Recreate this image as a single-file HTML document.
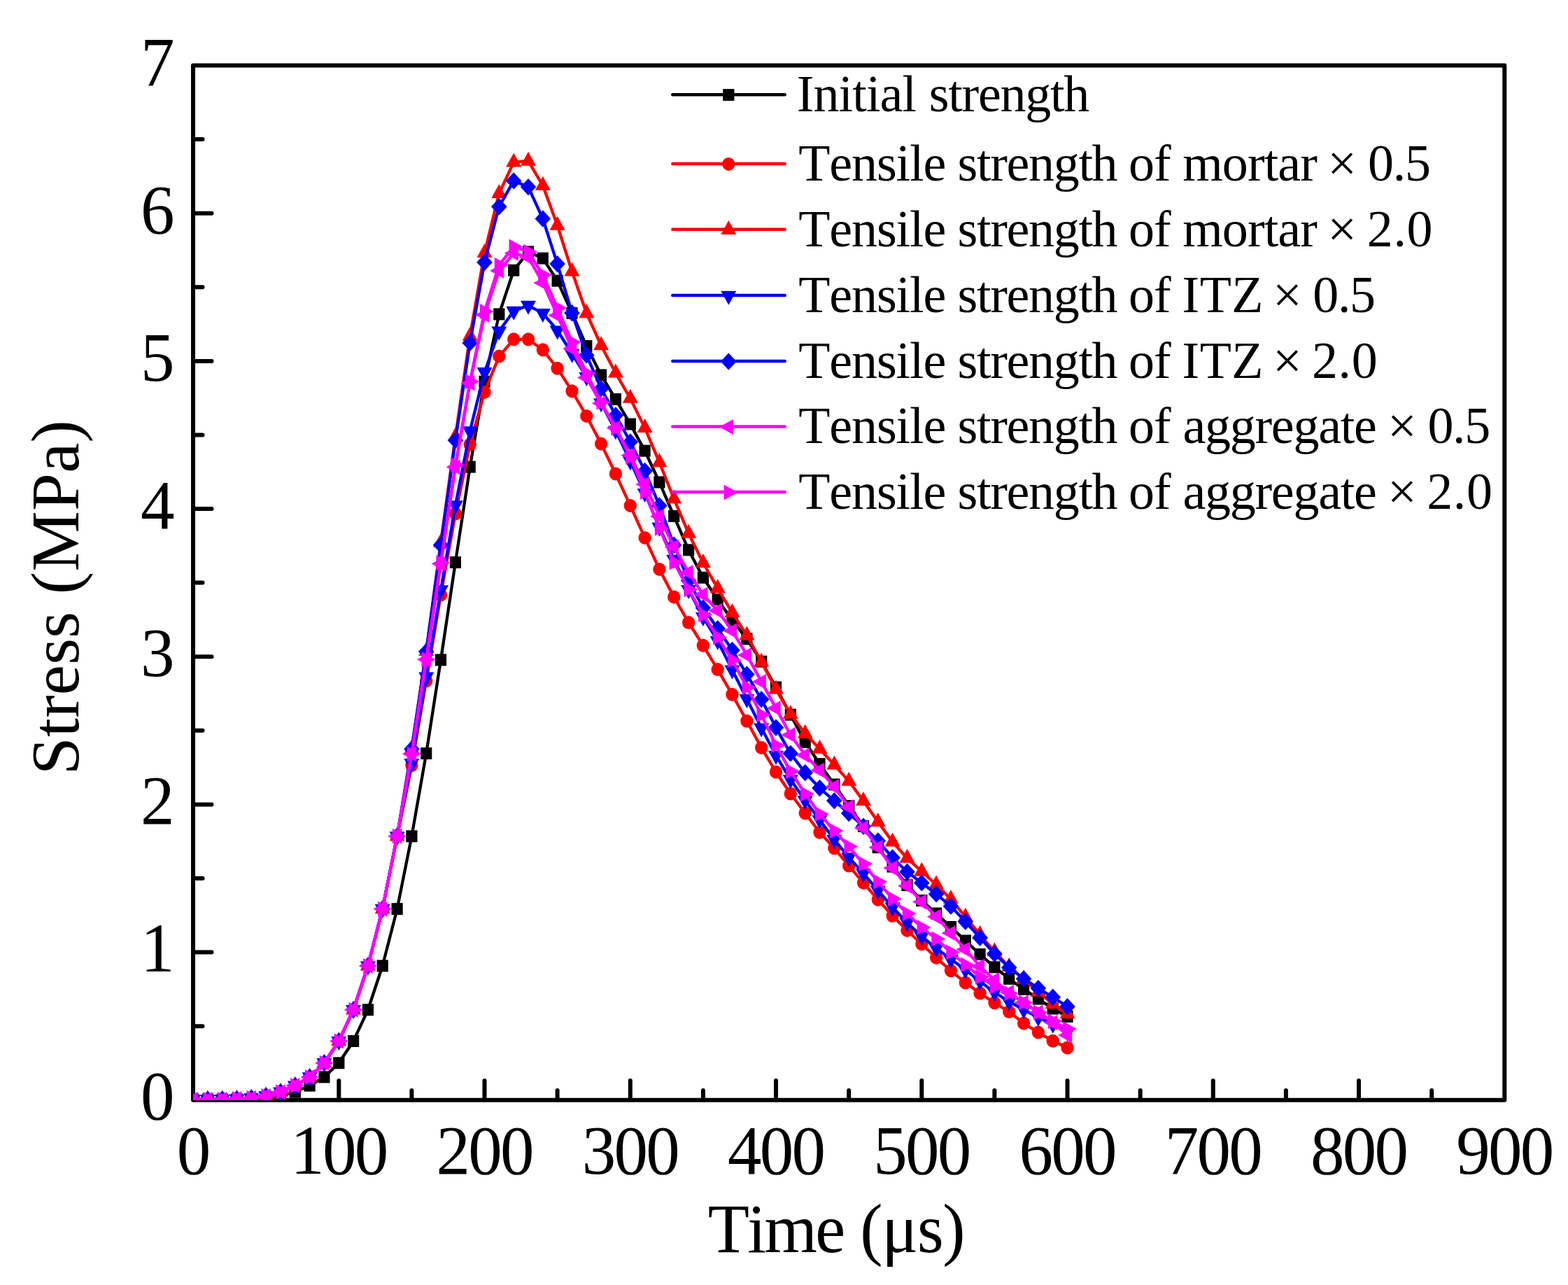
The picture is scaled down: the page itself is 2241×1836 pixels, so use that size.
<!DOCTYPE html>
<html lang="en"><head><meta charset="utf-8"><title>Stress vs Time</title>
<style>html,body{margin:0;padding:0;background:#fff;}body{width:2241px;height:1836px;overflow:hidden;}svg{display:block;}text{font-family:"Liberation Serif",serif;fill:#000;font-kerning:none;white-space:pre;}</style>
</head><body>
<svg width="2241" height="1836" viewBox="0 0 2241 1836">
<rect width="2241" height="1836" fill="#fff"/>
<defs><clipPath id="plot"><rect x="276.0" y="93.5" width="1874.3000000000002" height="1478.3"/></clipPath></defs>
<path d="M380.1 1571.8v-13.8M484.3 1571.8v-27.9M588.4 1571.8v-13.8M692.5 1571.8v-27.9M796.6 1571.8v-13.8M900.8 1571.8v-27.9M1004.9 1571.8v-13.8M1109 1571.8v-27.9M1213.2 1571.8v-13.8M1317.3 1571.8v-27.9M1421.4 1571.8v-13.8M1525.5 1571.8v-27.9M1629.7 1571.8v-13.8M1733.8 1571.8v-27.9M1837.9 1571.8v-13.8M1942 1571.8v-27.9M2046.2 1571.8v-13.8M276 1466.2h13.5M276 1360.6h26.5M276 1255h13.5M276 1149.4h26.5M276 1043.8h13.5M276 938.2h26.5M276 832.6h13.5M276 727.1h26.5M276 621.5h13.5M276 515.9h26.5M276 410.3h13.5M276 304.7h26.5M276 199.1h13.5" stroke="#000" stroke-width="6.0" stroke-linecap="round" fill="none"/>
<rect x="276.0" y="93.5" width="1874.3" height="1478.3" stroke="#000" stroke-width="6.0" stroke-linejoin="round" fill="none"/>
<g clip-path="url(#plot)">
<g id="s-black"><polyline points="276,1571 296.8,1571 317.7,1571 338.5,1570.7 359.3,1570.1 380.1,1568.8 401,1565.9 421.8,1560.2 442.6,1551.1 463.4,1538.9 484.3,1518.8 505.1,1487.5 525.9,1442.8 546.7,1380 567.6,1298.7 588.4,1194.8 609.2,1076.4 630,942.9 650.9,803.5 671.7,667.1 692.5,545.2 713.3,448.9 734.2,386.2 755,359.8 775.8,369.1 796.6,401.2 817.5,447.4 838.3,494.5 859.1,535.9 879.9,570.4 900.8,606 921.6,644.1 942.4,689 963.2,737.4 984.1,785.8 1004.9,825.3 1025.7,856.7 1046.5,886.1 1067.4,912.9 1088.2,945.2 1109,982 1129.8,1021.2 1150.7,1060.3 1171.5,1091.6 1192.3,1120.9 1213.2,1151.5 1234,1180.5 1254.8,1210.7 1275.6,1238.1 1296.5,1264.7 1317.3,1286.7 1338.1,1305.1 1358.9,1324.5 1379.8,1344.1 1400.6,1363.6 1421.4,1381.9 1442.2,1398.4 1463.1,1413.4 1483.9,1427.1 1504.7,1441.1 1525.5,1452.5" fill="none" stroke="#000000" stroke-width="4.3" stroke-linejoin="round" stroke-linecap="round"/>
<rect x="267.9" y="1562.5" width="16.2" height="17" fill="#000000"/><rect x="288.7" y="1562.5" width="16.2" height="17" fill="#000000"/><rect x="309.6" y="1562.5" width="16.2" height="17" fill="#000000"/><rect x="330.4" y="1562.2" width="16.2" height="17" fill="#000000"/><rect x="351.2" y="1561.6" width="16.2" height="17" fill="#000000"/><rect x="372" y="1560.3" width="16.2" height="17" fill="#000000"/><rect x="392.9" y="1557.4" width="16.2" height="17" fill="#000000"/><rect x="413.7" y="1551.7" width="16.2" height="17" fill="#000000"/><rect x="434.5" y="1542.6" width="16.2" height="17" fill="#000000"/><rect x="455.3" y="1530.4" width="16.2" height="17" fill="#000000"/><rect x="476.2" y="1510.3" width="16.2" height="17" fill="#000000"/><rect x="497" y="1479" width="16.2" height="17" fill="#000000"/><rect x="517.8" y="1434.3" width="16.2" height="17" fill="#000000"/><rect x="538.6" y="1371.5" width="16.2" height="17" fill="#000000"/><rect x="559.5" y="1290.2" width="16.2" height="17" fill="#000000"/><rect x="580.3" y="1186.3" width="16.2" height="17" fill="#000000"/><rect x="601.1" y="1067.9" width="16.2" height="17" fill="#000000"/><rect x="621.9" y="934.4" width="16.2" height="17" fill="#000000"/><rect x="642.8" y="795" width="16.2" height="17" fill="#000000"/><rect x="663.6" y="658.6" width="16.2" height="17" fill="#000000"/><rect x="684.4" y="536.7" width="16.2" height="17" fill="#000000"/><rect x="705.2" y="440.4" width="16.2" height="17" fill="#000000"/><rect x="726.1" y="377.7" width="16.2" height="17" fill="#000000"/><rect x="746.9" y="351.3" width="16.2" height="17" fill="#000000"/><rect x="767.7" y="360.6" width="16.2" height="17" fill="#000000"/><rect x="788.5" y="392.7" width="16.2" height="17" fill="#000000"/><rect x="809.4" y="438.9" width="16.2" height="17" fill="#000000"/><rect x="830.2" y="486" width="16.2" height="17" fill="#000000"/><rect x="851" y="527.4" width="16.2" height="17" fill="#000000"/><rect x="871.8" y="561.9" width="16.2" height="17" fill="#000000"/><rect x="892.7" y="597.5" width="16.2" height="17" fill="#000000"/><rect x="913.5" y="635.6" width="16.2" height="17" fill="#000000"/><rect x="934.3" y="680.5" width="16.2" height="17" fill="#000000"/><rect x="955.1" y="728.9" width="16.2" height="17" fill="#000000"/><rect x="976" y="777.3" width="16.2" height="17" fill="#000000"/><rect x="996.8" y="816.8" width="16.2" height="17" fill="#000000"/><rect x="1017.6" y="848.2" width="16.2" height="17" fill="#000000"/><rect x="1038.4" y="877.6" width="16.2" height="17" fill="#000000"/><rect x="1059.3" y="904.4" width="16.2" height="17" fill="#000000"/><rect x="1080.1" y="936.7" width="16.2" height="17" fill="#000000"/><rect x="1100.9" y="973.5" width="16.2" height="17" fill="#000000"/><rect x="1121.7" y="1012.7" width="16.2" height="17" fill="#000000"/><rect x="1142.6" y="1051.8" width="16.2" height="17" fill="#000000"/><rect x="1163.4" y="1083.1" width="16.2" height="17" fill="#000000"/><rect x="1184.2" y="1112.4" width="16.2" height="17" fill="#000000"/><rect x="1205.1" y="1143" width="16.2" height="17" fill="#000000"/><rect x="1225.9" y="1172" width="16.2" height="17" fill="#000000"/><rect x="1246.7" y="1202.2" width="16.2" height="17" fill="#000000"/><rect x="1267.5" y="1229.6" width="16.2" height="17" fill="#000000"/><rect x="1288.4" y="1256.2" width="16.2" height="17" fill="#000000"/><rect x="1309.2" y="1278.2" width="16.2" height="17" fill="#000000"/><rect x="1330" y="1296.6" width="16.2" height="17" fill="#000000"/><rect x="1350.8" y="1316" width="16.2" height="17" fill="#000000"/><rect x="1371.7" y="1335.6" width="16.2" height="17" fill="#000000"/><rect x="1392.5" y="1355.1" width="16.2" height="17" fill="#000000"/><rect x="1413.3" y="1373.4" width="16.2" height="17" fill="#000000"/><rect x="1434.1" y="1389.9" width="16.2" height="17" fill="#000000"/><rect x="1455" y="1404.9" width="16.2" height="17" fill="#000000"/><rect x="1475.8" y="1418.6" width="16.2" height="17" fill="#000000"/><rect x="1496.6" y="1432.6" width="16.2" height="17" fill="#000000"/><rect x="1517.4" y="1444" width="16.2" height="17" fill="#000000"/>
</g>
<g id="s-redc"><polyline points="276,1571 296.8,1571 317.7,1570.7 338.5,1570.1 359.3,1568.8 380.1,1565.9 401,1560.2 421.8,1551.1 442.6,1538.9 463.4,1518.8 484.3,1487.5 505.1,1442.8 525.9,1380 546.7,1298.7 567.6,1194.8 588.4,1093.5 609.2,972.7 630,850 650.9,734 671.7,635 692.5,560.2 713.3,509.1 734.2,484.8 755,484.8 775.8,499.8 796.6,526.2 817.5,558.7 838.3,594.4 859.1,634.1 879.9,677 900.8,722.4 921.6,768.4 942.4,813.4 963.2,852.9 984.1,889.5 1004.9,922.2 1025.7,956.6 1046.5,992.3 1067.4,1030.3 1088.2,1068.3 1109,1103 1129.8,1134 1150.7,1161.7 1171.5,1189.3 1192.3,1211.7 1213.2,1237.1 1234,1261.4 1254.8,1285.4 1275.6,1308.5 1296.5,1329.4 1317.3,1348.8 1338.1,1368.4 1358.9,1386.8 1379.8,1404.1 1400.6,1419.1 1421.4,1432.8 1442.2,1445.5 1463.1,1462 1483.9,1475.1 1504.7,1487.3 1525.5,1497" fill="none" stroke="#ff0000" stroke-width="4.3" stroke-linejoin="round" stroke-linecap="round"/>
<ellipse cx="276" cy="1571" rx="9.15" ry="9.5" fill="#ff0000"/><ellipse cx="296.8" cy="1571" rx="9.15" ry="9.5" fill="#ff0000"/><ellipse cx="317.7" cy="1570.7" rx="9.15" ry="9.5" fill="#ff0000"/><ellipse cx="338.5" cy="1570.1" rx="9.15" ry="9.5" fill="#ff0000"/><ellipse cx="359.3" cy="1568.8" rx="9.15" ry="9.5" fill="#ff0000"/><ellipse cx="380.1" cy="1565.9" rx="9.15" ry="9.5" fill="#ff0000"/><ellipse cx="401" cy="1560.2" rx="9.15" ry="9.5" fill="#ff0000"/><ellipse cx="421.8" cy="1551.1" rx="9.15" ry="9.5" fill="#ff0000"/><ellipse cx="442.6" cy="1538.9" rx="9.15" ry="9.5" fill="#ff0000"/><ellipse cx="463.4" cy="1518.8" rx="9.15" ry="9.5" fill="#ff0000"/><ellipse cx="484.3" cy="1487.5" rx="9.15" ry="9.5" fill="#ff0000"/><ellipse cx="505.1" cy="1442.8" rx="9.15" ry="9.5" fill="#ff0000"/><ellipse cx="525.9" cy="1380" rx="9.15" ry="9.5" fill="#ff0000"/><ellipse cx="546.7" cy="1298.7" rx="9.15" ry="9.5" fill="#ff0000"/><ellipse cx="567.6" cy="1194.8" rx="9.15" ry="9.5" fill="#ff0000"/><ellipse cx="588.4" cy="1093.5" rx="9.15" ry="9.5" fill="#ff0000"/><ellipse cx="609.2" cy="972.7" rx="9.15" ry="9.5" fill="#ff0000"/><ellipse cx="630" cy="850" rx="9.15" ry="9.5" fill="#ff0000"/><ellipse cx="650.9" cy="734" rx="9.15" ry="9.5" fill="#ff0000"/><ellipse cx="671.7" cy="635" rx="9.15" ry="9.5" fill="#ff0000"/><ellipse cx="692.5" cy="560.2" rx="9.15" ry="9.5" fill="#ff0000"/><ellipse cx="713.3" cy="509.1" rx="9.15" ry="9.5" fill="#ff0000"/><ellipse cx="734.2" cy="484.8" rx="9.15" ry="9.5" fill="#ff0000"/><ellipse cx="755" cy="484.8" rx="9.15" ry="9.5" fill="#ff0000"/><ellipse cx="775.8" cy="499.8" rx="9.15" ry="9.5" fill="#ff0000"/><ellipse cx="796.6" cy="526.2" rx="9.15" ry="9.5" fill="#ff0000"/><ellipse cx="817.5" cy="558.7" rx="9.15" ry="9.5" fill="#ff0000"/><ellipse cx="838.3" cy="594.4" rx="9.15" ry="9.5" fill="#ff0000"/><ellipse cx="859.1" cy="634.1" rx="9.15" ry="9.5" fill="#ff0000"/><ellipse cx="879.9" cy="677" rx="9.15" ry="9.5" fill="#ff0000"/><ellipse cx="900.8" cy="722.4" rx="9.15" ry="9.5" fill="#ff0000"/><ellipse cx="921.6" cy="768.4" rx="9.15" ry="9.5" fill="#ff0000"/><ellipse cx="942.4" cy="813.4" rx="9.15" ry="9.5" fill="#ff0000"/><ellipse cx="963.2" cy="852.9" rx="9.15" ry="9.5" fill="#ff0000"/><ellipse cx="984.1" cy="889.5" rx="9.15" ry="9.5" fill="#ff0000"/><ellipse cx="1004.9" cy="922.2" rx="9.15" ry="9.5" fill="#ff0000"/><ellipse cx="1025.7" cy="956.6" rx="9.15" ry="9.5" fill="#ff0000"/><ellipse cx="1046.5" cy="992.3" rx="9.15" ry="9.5" fill="#ff0000"/><ellipse cx="1067.4" cy="1030.3" rx="9.15" ry="9.5" fill="#ff0000"/><ellipse cx="1088.2" cy="1068.3" rx="9.15" ry="9.5" fill="#ff0000"/><ellipse cx="1109" cy="1103" rx="9.15" ry="9.5" fill="#ff0000"/><ellipse cx="1129.8" cy="1134" rx="9.15" ry="9.5" fill="#ff0000"/><ellipse cx="1150.7" cy="1161.7" rx="9.15" ry="9.5" fill="#ff0000"/><ellipse cx="1171.5" cy="1189.3" rx="9.15" ry="9.5" fill="#ff0000"/><ellipse cx="1192.3" cy="1211.7" rx="9.15" ry="9.5" fill="#ff0000"/><ellipse cx="1213.2" cy="1237.1" rx="9.15" ry="9.5" fill="#ff0000"/><ellipse cx="1234" cy="1261.4" rx="9.15" ry="9.5" fill="#ff0000"/><ellipse cx="1254.8" cy="1285.4" rx="9.15" ry="9.5" fill="#ff0000"/><ellipse cx="1275.6" cy="1308.5" rx="9.15" ry="9.5" fill="#ff0000"/><ellipse cx="1296.5" cy="1329.4" rx="9.15" ry="9.5" fill="#ff0000"/><ellipse cx="1317.3" cy="1348.8" rx="9.15" ry="9.5" fill="#ff0000"/><ellipse cx="1338.1" cy="1368.4" rx="9.15" ry="9.5" fill="#ff0000"/><ellipse cx="1358.9" cy="1386.8" rx="9.15" ry="9.5" fill="#ff0000"/><ellipse cx="1379.8" cy="1404.1" rx="9.15" ry="9.5" fill="#ff0000"/><ellipse cx="1400.6" cy="1419.1" rx="9.15" ry="9.5" fill="#ff0000"/><ellipse cx="1421.4" cy="1432.8" rx="9.15" ry="9.5" fill="#ff0000"/><ellipse cx="1442.2" cy="1445.5" rx="9.15" ry="9.5" fill="#ff0000"/><ellipse cx="1463.1" cy="1462" rx="9.15" ry="9.5" fill="#ff0000"/><ellipse cx="1483.9" cy="1475.1" rx="9.15" ry="9.5" fill="#ff0000"/><ellipse cx="1504.7" cy="1487.3" rx="9.15" ry="9.5" fill="#ff0000"/><ellipse cx="1525.5" cy="1497" rx="9.15" ry="9.5" fill="#ff0000"/>
</g>
<g id="s-redt"><polyline points="276,1571 296.8,1571 317.7,1570.7 338.5,1570.1 359.3,1568.8 380.1,1565.9 401,1560.2 421.8,1551.1 442.6,1538.9 463.4,1518.8 484.3,1487.5 505.1,1442.8 525.9,1380 546.7,1298.7 567.6,1194.8 588.4,1069.7 609.2,930.3 630,775.1 650.9,623.7 671.7,480.1 692.5,361.4 713.3,276.3 734.2,231.7 755,230 775.8,265.1 796.6,322.1 817.5,388 838.3,447.5 859.1,493.6 879.9,532.9 900.8,569.2 921.6,611.4 942.4,660.6 963.2,712.6 984.1,762 1004.9,804.2 1025.7,840.5 1046.5,875.4 1067.4,907.7 1088.2,945.7 1109,984.8 1129.8,1020.5 1150.7,1048.1 1171.5,1070.1 1192.3,1092.9 1213.2,1116.1 1234,1144.4 1254.8,1174.2 1275.6,1202.7 1296.5,1226.2 1317.3,1245.2 1338.1,1264 1358.9,1284.7 1379.8,1310 1400.6,1335.4 1421.4,1359.6 1442.2,1381.4 1463.1,1399.1 1483.9,1417.1 1504.7,1434.6 1525.5,1448.6" fill="none" stroke="#ff0000" stroke-width="4.3" stroke-linejoin="round" stroke-linecap="round"/>
<polygon points="276,1557.6 265,1577.6 287,1577.6" fill="#ff0000"/><polygon points="296.8,1557.6 285.8,1577.6 307.8,1577.6" fill="#ff0000"/><polygon points="317.7,1557.4 306.7,1577.4 328.7,1577.4" fill="#ff0000"/><polygon points="338.5,1556.8 327.5,1576.8 349.5,1576.8" fill="#ff0000"/><polygon points="359.3,1555.5 348.3,1575.5 370.3,1575.5" fill="#ff0000"/><polygon points="380.1,1552.6 369.1,1572.6 391.1,1572.6" fill="#ff0000"/><polygon points="401,1546.9 390,1566.9 412,1566.9" fill="#ff0000"/><polygon points="421.8,1537.8 410.8,1557.8 432.8,1557.8" fill="#ff0000"/><polygon points="442.6,1525.5 431.6,1545.5 453.6,1545.5" fill="#ff0000"/><polygon points="463.4,1505.5 452.4,1525.5 474.4,1525.5" fill="#ff0000"/><polygon points="484.3,1474.2 473.3,1494.2 495.3,1494.2" fill="#ff0000"/><polygon points="505.1,1429.4 494.1,1449.4 516.1,1449.4" fill="#ff0000"/><polygon points="525.9,1366.7 514.9,1386.7 536.9,1386.7" fill="#ff0000"/><polygon points="546.7,1285.4 535.7,1305.4 557.7,1305.4" fill="#ff0000"/><polygon points="567.6,1181.5 556.6,1201.5 578.6,1201.5" fill="#ff0000"/><polygon points="588.4,1056.4 577.4,1076.4 599.4,1076.4" fill="#ff0000"/><polygon points="609.2,917 598.2,937 620.2,937" fill="#ff0000"/><polygon points="630,761.7 619,781.7 641,781.7" fill="#ff0000"/><polygon points="650.9,610.3 639.9,630.3 661.9,630.3" fill="#ff0000"/><polygon points="671.7,466.7 660.7,486.7 682.7,486.7" fill="#ff0000"/><polygon points="692.5,348 681.5,368 703.5,368" fill="#ff0000"/><polygon points="713.3,262.9 702.3,282.9 724.3,282.9" fill="#ff0000"/><polygon points="734.2,218.4 723.2,238.4 745.2,238.4" fill="#ff0000"/><polygon points="755,216.7 744,236.7 766,236.7" fill="#ff0000"/><polygon points="775.8,251.7 764.8,271.7 786.8,271.7" fill="#ff0000"/><polygon points="796.6,308.8 785.6,328.8 807.6,328.8" fill="#ff0000"/><polygon points="817.5,374.6 806.5,394.6 828.5,394.6" fill="#ff0000"/><polygon points="838.3,434.2 827.3,454.2 849.3,454.2" fill="#ff0000"/><polygon points="859.1,480.2 848.1,500.2 870.1,500.2" fill="#ff0000"/><polygon points="879.9,519.5 868.9,539.5 890.9,539.5" fill="#ff0000"/><polygon points="900.8,555.8 889.8,575.8 911.8,575.8" fill="#ff0000"/><polygon points="921.6,598.1 910.6,618.1 932.6,618.1" fill="#ff0000"/><polygon points="942.4,647.3 931.4,667.3 953.4,667.3" fill="#ff0000"/><polygon points="963.2,699.2 952.2,719.2 974.2,719.2" fill="#ff0000"/><polygon points="984.1,748.7 973.1,768.7 995.1,768.7" fill="#ff0000"/><polygon points="1004.9,790.9 993.9,810.9 1015.9,810.9" fill="#ff0000"/><polygon points="1025.7,827.2 1014.7,847.2 1036.7,847.2" fill="#ff0000"/><polygon points="1046.5,862.1 1035.5,882.1 1057.5,882.1" fill="#ff0000"/><polygon points="1067.4,894.4 1056.4,914.4 1078.4,914.4" fill="#ff0000"/><polygon points="1088.2,932.4 1077.2,952.4 1099.2,952.4" fill="#ff0000"/><polygon points="1109,971.5 1098,991.5 1120,991.5" fill="#ff0000"/><polygon points="1129.8,1007.1 1118.8,1027.1 1140.8,1027.1" fill="#ff0000"/><polygon points="1150.7,1034.8 1139.7,1054.8 1161.7,1054.8" fill="#ff0000"/><polygon points="1171.5,1056.8 1160.5,1076.8 1182.5,1076.8" fill="#ff0000"/><polygon points="1192.3,1079.6 1181.3,1099.6 1203.3,1099.6" fill="#ff0000"/><polygon points="1213.2,1102.8 1202.2,1122.8 1224.2,1122.8" fill="#ff0000"/><polygon points="1234,1131.1 1223,1151.1 1245,1151.1" fill="#ff0000"/><polygon points="1254.8,1160.9 1243.8,1180.9 1265.8,1180.9" fill="#ff0000"/><polygon points="1275.6,1189.4 1264.6,1209.4 1286.6,1209.4" fill="#ff0000"/><polygon points="1296.5,1212.8 1285.5,1232.8 1307.5,1232.8" fill="#ff0000"/><polygon points="1317.3,1231.8 1306.3,1251.8 1328.3,1251.8" fill="#ff0000"/><polygon points="1338.1,1250.6 1327.1,1270.6 1349.1,1270.6" fill="#ff0000"/><polygon points="1358.9,1271.3 1347.9,1291.3 1369.9,1291.3" fill="#ff0000"/><polygon points="1379.8,1296.7 1368.8,1316.7 1390.8,1316.7" fill="#ff0000"/><polygon points="1400.6,1322 1389.6,1342 1411.6,1342" fill="#ff0000"/><polygon points="1421.4,1346.3 1410.4,1366.3 1432.4,1366.3" fill="#ff0000"/><polygon points="1442.2,1368.1 1431.2,1388.1 1453.2,1388.1" fill="#ff0000"/><polygon points="1463.1,1385.8 1452.1,1405.8 1474.1,1405.8" fill="#ff0000"/><polygon points="1483.9,1403.8 1472.9,1423.8 1494.9,1423.8" fill="#ff0000"/><polygon points="1504.7,1421.3 1493.7,1441.3 1515.7,1441.3" fill="#ff0000"/><polygon points="1525.5,1435.2 1514.5,1455.2 1536.5,1455.2" fill="#ff0000"/>
</g>
<g id="s-blued"><polyline points="276,1571 296.8,1571 317.7,1570.7 338.5,1570.1 359.3,1568.8 380.1,1565.9 401,1560.2 421.8,1551.1 442.6,1538.9 463.4,1518.8 484.3,1487.5 505.1,1442.8 525.9,1380 546.7,1298.7 567.6,1194.8 588.4,1090.6 609.2,967 630,842.9 650.9,721.9 671.7,615.8 692.5,531.8 713.3,473.1 734.2,444.4 755,436.3 775.8,447.7 796.6,472 817.5,505.4 838.3,538.6 859.1,575.9 879.9,615.2 900.8,658.9 921.6,704.8 942.4,753.3 963.2,799.4 984.1,842.7 1004.9,881.7 1025.7,915.7 1046.5,957.1 1067.4,998.7 1088.2,1040.1 1109,1079.4 1129.8,1113.8 1150.7,1143.8 1171.5,1171.5 1192.3,1199.6 1213.2,1224.9 1234,1247.9 1254.8,1272.2 1275.6,1296.3 1296.5,1318.3 1317.3,1337.9 1338.1,1354.8 1358.9,1370.6 1379.8,1385.6 1400.6,1402.3 1421.4,1417.9 1442.2,1431 1463.1,1442.6 1483.9,1453.6 1504.7,1463.3 1525.5,1474.5" fill="none" stroke="#0000ff" stroke-width="4.3" stroke-linejoin="round" stroke-linecap="round"/>
<polygon points="276,1584.3 265,1564.3 287,1564.3" fill="#0000ff"/><polygon points="296.8,1584.3 285.8,1564.3 307.8,1564.3" fill="#0000ff"/><polygon points="317.7,1584.1 306.7,1564.1 328.7,1564.1" fill="#0000ff"/><polygon points="338.5,1583.4 327.5,1563.4 349.5,1563.4" fill="#0000ff"/><polygon points="359.3,1582.2 348.3,1562.2 370.3,1562.2" fill="#0000ff"/><polygon points="380.1,1579.2 369.1,1559.2 391.1,1559.2" fill="#0000ff"/><polygon points="401,1573.5 390,1553.5 412,1553.5" fill="#0000ff"/><polygon points="421.8,1564.4 410.8,1544.4 432.8,1544.4" fill="#0000ff"/><polygon points="442.6,1552.2 431.6,1532.2 453.6,1532.2" fill="#0000ff"/><polygon points="463.4,1532.1 452.4,1512.1 474.4,1512.1" fill="#0000ff"/><polygon points="484.3,1500.9 473.3,1480.9 495.3,1480.9" fill="#0000ff"/><polygon points="505.1,1456.1 494.1,1436.1 516.1,1436.1" fill="#0000ff"/><polygon points="525.9,1393.4 514.9,1373.4 536.9,1373.4" fill="#0000ff"/><polygon points="546.7,1312.1 535.7,1292.1 557.7,1292.1" fill="#0000ff"/><polygon points="567.6,1208.2 556.6,1188.2 578.6,1188.2" fill="#0000ff"/><polygon points="588.4,1103.9 577.4,1083.9 599.4,1083.9" fill="#0000ff"/><polygon points="609.2,980.4 598.2,960.4 620.2,960.4" fill="#0000ff"/><polygon points="630,856.2 619,836.2 641,836.2" fill="#0000ff"/><polygon points="650.9,735.2 639.9,715.2 661.9,715.2" fill="#0000ff"/><polygon points="671.7,629.2 660.7,609.2 682.7,609.2" fill="#0000ff"/><polygon points="692.5,545.1 681.5,525.1 703.5,525.1" fill="#0000ff"/><polygon points="713.3,486.4 702.3,466.4 724.3,466.4" fill="#0000ff"/><polygon points="734.2,457.7 723.2,437.7 745.2,437.7" fill="#0000ff"/><polygon points="755,449.7 744,429.7 766,429.7" fill="#0000ff"/><polygon points="775.8,461.1 764.8,441.1 786.8,441.1" fill="#0000ff"/><polygon points="796.6,485.4 785.6,465.4 807.6,465.4" fill="#0000ff"/><polygon points="817.5,518.7 806.5,498.7 828.5,498.7" fill="#0000ff"/><polygon points="838.3,551.9 827.3,531.9 849.3,531.9" fill="#0000ff"/><polygon points="859.1,589.3 848.1,569.3 870.1,569.3" fill="#0000ff"/><polygon points="879.9,628.5 868.9,608.5 890.9,608.5" fill="#0000ff"/><polygon points="900.8,672.3 889.8,652.3 911.8,652.3" fill="#0000ff"/><polygon points="921.6,718.1 910.6,698.1 932.6,698.1" fill="#0000ff"/><polygon points="942.4,766.7 931.4,746.7 953.4,746.7" fill="#0000ff"/><polygon points="963.2,812.7 952.2,792.7 974.2,792.7" fill="#0000ff"/><polygon points="984.1,856 973.1,836 995.1,836" fill="#0000ff"/><polygon points="1004.9,895.1 993.9,875.1 1015.9,875.1" fill="#0000ff"/><polygon points="1025.7,929.1 1014.7,909.1 1036.7,909.1" fill="#0000ff"/><polygon points="1046.5,970.5 1035.5,950.5 1057.5,950.5" fill="#0000ff"/><polygon points="1067.4,1012.1 1056.4,992.1 1078.4,992.1" fill="#0000ff"/><polygon points="1088.2,1053.5 1077.2,1033.5 1099.2,1033.5" fill="#0000ff"/><polygon points="1109,1092.7 1098,1072.7 1120,1072.7" fill="#0000ff"/><polygon points="1129.8,1127.2 1118.8,1107.2 1140.8,1107.2" fill="#0000ff"/><polygon points="1150.7,1157.1 1139.7,1137.1 1161.7,1137.1" fill="#0000ff"/><polygon points="1171.5,1184.8 1160.5,1164.8 1182.5,1164.8" fill="#0000ff"/><polygon points="1192.3,1212.9 1181.3,1192.9 1203.3,1192.9" fill="#0000ff"/><polygon points="1213.2,1238.2 1202.2,1218.2 1224.2,1218.2" fill="#0000ff"/><polygon points="1234,1261.3 1223,1241.3 1245,1241.3" fill="#0000ff"/><polygon points="1254.8,1285.5 1243.8,1265.5 1265.8,1265.5" fill="#0000ff"/><polygon points="1275.6,1309.6 1264.6,1289.6 1286.6,1289.6" fill="#0000ff"/><polygon points="1296.5,1331.6 1285.5,1311.6 1307.5,1311.6" fill="#0000ff"/><polygon points="1317.3,1351.2 1306.3,1331.2 1328.3,1331.2" fill="#0000ff"/><polygon points="1338.1,1368.1 1327.1,1348.1 1349.1,1348.1" fill="#0000ff"/><polygon points="1358.9,1384 1347.9,1364 1369.9,1364" fill="#0000ff"/><polygon points="1379.8,1399 1368.8,1379 1390.8,1379" fill="#0000ff"/><polygon points="1400.6,1415.6 1389.6,1395.6 1411.6,1395.6" fill="#0000ff"/><polygon points="1421.4,1431.3 1410.4,1411.3 1432.4,1411.3" fill="#0000ff"/><polygon points="1442.2,1444.4 1431.2,1424.4 1453.2,1424.4" fill="#0000ff"/><polygon points="1463.1,1456 1452.1,1436 1474.1,1436" fill="#0000ff"/><polygon points="1483.9,1467 1472.9,1447 1494.9,1447" fill="#0000ff"/><polygon points="1504.7,1476.7 1493.7,1456.7 1515.7,1456.7" fill="#0000ff"/><polygon points="1525.5,1487.9 1514.5,1467.9 1536.5,1467.9" fill="#0000ff"/>
</g>
<g id="s-bluedi"><polyline points="276,1571 296.8,1571 317.7,1570.7 338.5,1570.1 359.3,1568.8 380.1,1565.9 401,1560.2 421.8,1551.1 442.6,1538.9 463.4,1518.8 484.3,1487.5 505.1,1442.8 525.9,1380 546.7,1298.7 567.6,1194.8 588.4,1070.2 609.2,931.1 630,778.8 650.9,629.1 671.7,489.9 692.5,374.8 713.3,295.2 734.2,258.4 755,267.1 775.8,312.5 796.6,377.1 817.5,447.2 838.3,507.4 859.1,555.4 879.9,593.4 900.8,631.4 921.6,673 942.4,722.4 963.2,778.8 984.1,829.5 1004.9,868.6 1025.7,898.1 1046.5,929 1067.4,963.6 1088.2,999.3 1109,1039.6 1129.8,1076.6 1150.7,1104 1171.5,1126 1192.3,1144.1 1213.2,1162.1 1234,1180.7 1254.8,1201.4 1275.6,1225.5 1296.5,1245.7 1317.3,1261.4 1338.1,1277.4 1358.9,1294.7 1379.8,1316.7 1400.6,1339.7 1421.4,1362.7 1442.2,1382.4 1463.1,1398.4 1483.9,1412.1 1504.7,1424.8 1525.5,1438.3" fill="none" stroke="#0000ff" stroke-width="4.3" stroke-linejoin="round" stroke-linecap="round"/>
<polygon points="276,1558.8 287.3,1571 276,1583.2 264.7,1571" fill="#0000ff"/><polygon points="296.8,1558.8 308.1,1571 296.8,1583.2 285.5,1571" fill="#0000ff"/><polygon points="317.7,1558.5 329,1570.7 317.7,1582.9 306.4,1570.7" fill="#0000ff"/><polygon points="338.5,1557.9 349.8,1570.1 338.5,1582.3 327.2,1570.1" fill="#0000ff"/><polygon points="359.3,1556.6 370.6,1568.8 359.3,1581 348,1568.8" fill="#0000ff"/><polygon points="380.1,1553.7 391.4,1565.9 380.1,1578.1 368.8,1565.9" fill="#0000ff"/><polygon points="401,1548 412.3,1560.2 401,1572.4 389.7,1560.2" fill="#0000ff"/><polygon points="421.8,1538.9 433.1,1551.1 421.8,1563.3 410.5,1551.1" fill="#0000ff"/><polygon points="442.6,1526.7 453.9,1538.9 442.6,1551.1 431.3,1538.9" fill="#0000ff"/><polygon points="463.4,1506.6 474.7,1518.8 463.4,1531 452.1,1518.8" fill="#0000ff"/><polygon points="484.3,1475.3 495.6,1487.5 484.3,1499.7 473,1487.5" fill="#0000ff"/><polygon points="505.1,1430.6 516.4,1442.8 505.1,1455 493.8,1442.8" fill="#0000ff"/><polygon points="525.9,1367.8 537.2,1380 525.9,1392.2 514.6,1380" fill="#0000ff"/><polygon points="546.7,1286.5 558,1298.7 546.7,1310.9 535.4,1298.7" fill="#0000ff"/><polygon points="567.6,1182.6 578.9,1194.8 567.6,1207 556.3,1194.8" fill="#0000ff"/><polygon points="588.4,1058 599.7,1070.2 588.4,1082.4 577.1,1070.2" fill="#0000ff"/><polygon points="609.2,918.9 620.5,931.1 609.2,943.3 597.9,931.1" fill="#0000ff"/><polygon points="630,766.6 641.3,778.8 630,791 618.7,778.8" fill="#0000ff"/><polygon points="650.9,616.9 662.2,629.1 650.9,641.3 639.6,629.1" fill="#0000ff"/><polygon points="671.7,477.7 683,489.9 671.7,502.1 660.4,489.9" fill="#0000ff"/><polygon points="692.5,362.6 703.8,374.8 692.5,387 681.2,374.8" fill="#0000ff"/><polygon points="713.3,283 724.6,295.2 713.3,307.4 702,295.2" fill="#0000ff"/><polygon points="734.2,246.2 745.5,258.4 734.2,270.6 722.9,258.4" fill="#0000ff"/><polygon points="755,254.9 766.3,267.1 755,279.3 743.7,267.1" fill="#0000ff"/><polygon points="775.8,300.3 787.1,312.5 775.8,324.7 764.5,312.5" fill="#0000ff"/><polygon points="796.6,364.9 807.9,377.1 796.6,389.3 785.3,377.1" fill="#0000ff"/><polygon points="817.5,435 828.8,447.2 817.5,459.4 806.2,447.2" fill="#0000ff"/><polygon points="838.3,495.2 849.6,507.4 838.3,519.6 827,507.4" fill="#0000ff"/><polygon points="859.1,543.2 870.4,555.4 859.1,567.6 847.8,555.4" fill="#0000ff"/><polygon points="879.9,581.2 891.2,593.4 879.9,605.6 868.6,593.4" fill="#0000ff"/><polygon points="900.8,619.2 912.1,631.4 900.8,643.6 889.5,631.4" fill="#0000ff"/><polygon points="921.6,660.8 932.9,673 921.6,685.2 910.3,673" fill="#0000ff"/><polygon points="942.4,710.2 953.7,722.4 942.4,734.6 931.1,722.4" fill="#0000ff"/><polygon points="963.2,766.6 974.5,778.8 963.2,791 951.9,778.8" fill="#0000ff"/><polygon points="984.1,817.3 995.4,829.5 984.1,841.7 972.8,829.5" fill="#0000ff"/><polygon points="1004.9,856.4 1016.2,868.6 1004.9,880.8 993.6,868.6" fill="#0000ff"/><polygon points="1025.7,885.9 1037,898.1 1025.7,910.3 1014.4,898.1" fill="#0000ff"/><polygon points="1046.5,916.8 1057.8,929 1046.5,941.2 1035.2,929" fill="#0000ff"/><polygon points="1067.4,951.4 1078.7,963.6 1067.4,975.8 1056.1,963.6" fill="#0000ff"/><polygon points="1088.2,987.1 1099.5,999.3 1088.2,1011.5 1076.9,999.3" fill="#0000ff"/><polygon points="1109,1027.4 1120.3,1039.6 1109,1051.8 1097.7,1039.6" fill="#0000ff"/><polygon points="1129.8,1064.4 1141.1,1076.6 1129.8,1088.8 1118.5,1076.6" fill="#0000ff"/><polygon points="1150.7,1091.8 1162,1104 1150.7,1116.2 1139.4,1104" fill="#0000ff"/><polygon points="1171.5,1113.8 1182.8,1126 1171.5,1138.2 1160.2,1126" fill="#0000ff"/><polygon points="1192.3,1131.9 1203.6,1144.1 1192.3,1156.3 1181,1144.1" fill="#0000ff"/><polygon points="1213.2,1149.9 1224.5,1162.1 1213.2,1174.3 1201.9,1162.1" fill="#0000ff"/><polygon points="1234,1168.5 1245.3,1180.7 1234,1192.9 1222.7,1180.7" fill="#0000ff"/><polygon points="1254.8,1189.2 1266.1,1201.4 1254.8,1213.6 1243.5,1201.4" fill="#0000ff"/><polygon points="1275.6,1213.3 1286.9,1225.5 1275.6,1237.7 1264.3,1225.5" fill="#0000ff"/><polygon points="1296.5,1233.5 1307.8,1245.7 1296.5,1257.9 1285.2,1245.7" fill="#0000ff"/><polygon points="1317.3,1249.2 1328.6,1261.4 1317.3,1273.6 1306,1261.4" fill="#0000ff"/><polygon points="1338.1,1265.2 1349.4,1277.4 1338.1,1289.6 1326.8,1277.4" fill="#0000ff"/><polygon points="1358.9,1282.5 1370.2,1294.7 1358.9,1306.9 1347.6,1294.7" fill="#0000ff"/><polygon points="1379.8,1304.5 1391.1,1316.7 1379.8,1328.9 1368.5,1316.7" fill="#0000ff"/><polygon points="1400.6,1327.5 1411.9,1339.7 1400.6,1351.9 1389.3,1339.7" fill="#0000ff"/><polygon points="1421.4,1350.5 1432.7,1362.7 1421.4,1374.9 1410.1,1362.7" fill="#0000ff"/><polygon points="1442.2,1370.2 1453.5,1382.4 1442.2,1394.6 1430.9,1382.4" fill="#0000ff"/><polygon points="1463.1,1386.2 1474.4,1398.4 1463.1,1410.6 1451.8,1398.4" fill="#0000ff"/><polygon points="1483.9,1399.9 1495.2,1412.1 1483.9,1424.3 1472.6,1412.1" fill="#0000ff"/><polygon points="1504.7,1412.6 1516,1424.8 1504.7,1437 1493.4,1424.8" fill="#0000ff"/><polygon points="1525.5,1426.1 1536.8,1438.3 1525.5,1450.5 1514.2,1438.3" fill="#0000ff"/>
</g>
<g id="s-magl"><polyline points="276,1571 296.8,1571 317.7,1570.7 338.5,1570.1 359.3,1568.8 380.1,1565.9 401,1560.2 421.8,1551.1 442.6,1538.9 463.4,1518.8 484.3,1487.5 505.1,1442.8 525.9,1380 546.7,1298.7 567.6,1194.8 588.4,1077.2 609.2,942.3 630,805.6 650.9,667.3 671.7,547.5 692.5,449.8 713.3,386.8 734.2,361.7 755,367.4 775.8,404.2 796.6,450.4 817.5,497.9 838.3,539.5 859.1,576.3 879.9,611.5 900.8,650.6 921.6,692 942.4,737.8 963.2,781.5 984.1,817.9 1004.9,849.5 1025.7,872.6 1046.5,901.3 1067.4,935.9 1088.2,973.9 1109,1011.9 1129.8,1050 1150.7,1078.9 1171.5,1100.6 1192.3,1124.1 1213.2,1153 1234,1183 1254.8,1210.7 1275.6,1240.2 1296.5,1265.8 1317.3,1288.4 1338.1,1309.7 1358.9,1333.2 1379.8,1356.4 1400.6,1380.7 1421.4,1400.3 1442.2,1418.1 1463.1,1432.4 1483.9,1446.4 1504.7,1460.9 1525.5,1479.1" fill="none" stroke="#ff00ff" stroke-width="4.3" stroke-linejoin="round" stroke-linecap="round"/>
<polygon points="262.7,1571 282.7,1560 282.7,1582" fill="#ff00ff"/><polygon points="283.5,1571 303.5,1560 303.5,1582" fill="#ff00ff"/><polygon points="304.3,1570.7 324.3,1559.7 324.3,1581.7" fill="#ff00ff"/><polygon points="325.1,1570.1 345.1,1559.1 345.1,1581.1" fill="#ff00ff"/><polygon points="346,1568.8 366,1557.8 366,1579.8" fill="#ff00ff"/><polygon points="366.8,1565.9 386.8,1554.9 386.8,1576.9" fill="#ff00ff"/><polygon points="387.6,1560.2 407.6,1549.2 407.6,1571.2" fill="#ff00ff"/><polygon points="408.4,1551.1 428.4,1540.1 428.4,1562.1" fill="#ff00ff"/><polygon points="429.3,1538.9 449.3,1527.9 449.3,1549.9" fill="#ff00ff"/><polygon points="450.1,1518.8 470.1,1507.8 470.1,1529.8" fill="#ff00ff"/><polygon points="470.9,1487.5 490.9,1476.5 490.9,1498.5" fill="#ff00ff"/><polygon points="491.7,1442.8 511.7,1431.8 511.7,1453.8" fill="#ff00ff"/><polygon points="512.6,1380 532.6,1369 532.6,1391" fill="#ff00ff"/><polygon points="533.4,1298.7 553.4,1287.7 553.4,1309.7" fill="#ff00ff"/><polygon points="554.2,1194.8 574.2,1183.8 574.2,1205.8" fill="#ff00ff"/><polygon points="575,1077.2 595,1066.2 595,1088.2" fill="#ff00ff"/><polygon points="595.9,942.3 615.9,931.3 615.9,953.3" fill="#ff00ff"/><polygon points="616.7,805.6 636.7,794.6 636.7,816.6" fill="#ff00ff"/><polygon points="637.5,667.3 657.5,656.3 657.5,678.3" fill="#ff00ff"/><polygon points="658.4,547.5 678.4,536.5 678.4,558.5" fill="#ff00ff"/><polygon points="679.2,449.8 699.2,438.8 699.2,460.8" fill="#ff00ff"/><polygon points="700,386.8 720,375.8 720,397.8" fill="#ff00ff"/><polygon points="720.8,361.7 740.8,350.7 740.8,372.7" fill="#ff00ff"/><polygon points="741.7,367.4 761.7,356.4 761.7,378.4" fill="#ff00ff"/><polygon points="762.5,404.2 782.5,393.2 782.5,415.2" fill="#ff00ff"/><polygon points="783.3,450.4 803.3,439.4 803.3,461.4" fill="#ff00ff"/><polygon points="804.1,497.9 824.1,486.9 824.1,508.9" fill="#ff00ff"/><polygon points="825,539.5 845,528.5 845,550.5" fill="#ff00ff"/><polygon points="845.8,576.3 865.8,565.3 865.8,587.3" fill="#ff00ff"/><polygon points="866.6,611.5 886.6,600.5 886.6,622.5" fill="#ff00ff"/><polygon points="887.4,650.6 907.4,639.6 907.4,661.6" fill="#ff00ff"/><polygon points="908.3,692 928.3,681 928.3,703" fill="#ff00ff"/><polygon points="929.1,737.8 949.1,726.8 949.1,748.8" fill="#ff00ff"/><polygon points="949.9,781.5 969.9,770.5 969.9,792.5" fill="#ff00ff"/><polygon points="970.7,817.9 990.7,806.9 990.7,828.9" fill="#ff00ff"/><polygon points="991.6,849.5 1011.6,838.5 1011.6,860.5" fill="#ff00ff"/><polygon points="1012.4,872.6 1032.4,861.6 1032.4,883.6" fill="#ff00ff"/><polygon points="1033.2,901.3 1053.2,890.3 1053.2,912.3" fill="#ff00ff"/><polygon points="1054,935.9 1074,924.9 1074,946.9" fill="#ff00ff"/><polygon points="1074.9,973.9 1094.9,962.9 1094.9,984.9" fill="#ff00ff"/><polygon points="1095.7,1011.9 1115.7,1000.9 1115.7,1022.9" fill="#ff00ff"/><polygon points="1116.5,1050 1136.5,1039 1136.5,1061" fill="#ff00ff"/><polygon points="1137.3,1078.9 1157.3,1067.9 1157.3,1089.9" fill="#ff00ff"/><polygon points="1158.2,1100.6 1178.2,1089.6 1178.2,1111.6" fill="#ff00ff"/><polygon points="1179,1124.1 1199,1113.1 1199,1135.1" fill="#ff00ff"/><polygon points="1199.8,1153 1219.8,1142 1219.8,1164" fill="#ff00ff"/><polygon points="1220.6,1183 1240.6,1172 1240.6,1194" fill="#ff00ff"/><polygon points="1241.5,1210.7 1261.5,1199.7 1261.5,1221.7" fill="#ff00ff"/><polygon points="1262.3,1240.2 1282.3,1229.2 1282.3,1251.2" fill="#ff00ff"/><polygon points="1283.1,1265.8 1303.1,1254.8 1303.1,1276.8" fill="#ff00ff"/><polygon points="1303.9,1288.4 1323.9,1277.4 1323.9,1299.4" fill="#ff00ff"/><polygon points="1324.8,1309.7 1344.8,1298.7 1344.8,1320.7" fill="#ff00ff"/><polygon points="1345.6,1333.2 1365.6,1322.2 1365.6,1344.2" fill="#ff00ff"/><polygon points="1366.4,1356.4 1386.4,1345.4 1386.4,1367.4" fill="#ff00ff"/><polygon points="1387.2,1380.7 1407.2,1369.7 1407.2,1391.7" fill="#ff00ff"/><polygon points="1408.1,1400.3 1428.1,1389.3 1428.1,1411.3" fill="#ff00ff"/><polygon points="1428.9,1418.1 1448.9,1407.1 1448.9,1429.1" fill="#ff00ff"/><polygon points="1449.7,1432.4 1469.7,1421.4 1469.7,1443.4" fill="#ff00ff"/><polygon points="1470.5,1446.4 1490.5,1435.4 1490.5,1457.4" fill="#ff00ff"/><polygon points="1491.4,1460.9 1511.4,1449.9 1511.4,1471.9" fill="#ff00ff"/><polygon points="1512.2,1479.1 1532.2,1468.1 1532.2,1490.1" fill="#ff00ff"/>
</g>
<g id="s-magr"><polyline points="276,1571 296.8,1571 317.7,1570.7 338.5,1570.1 359.3,1568.8 380.1,1565.9 401,1560.2 421.8,1551.1 442.6,1538.9 463.4,1518.8 484.3,1487.5 505.1,1442.8 525.9,1380 546.7,1298.7 567.6,1194.8 588.4,1077.2 609.2,942.3 630,803.9 650.9,664.3 671.7,545 692.5,445.1 713.3,378.8 734.2,352.4 755,359.8 775.8,392.8 796.6,439.8 817.5,488.8 838.3,533.2 859.1,574.6 879.9,611.5 900.8,653.1 921.6,703 942.4,754.7 963.2,803.5 984.1,842.2 1004.9,878.3 1025.7,910.6 1046.5,942.9 1067.4,982 1088.2,1021.2 1109,1065 1129.8,1101.9 1150.7,1134.2 1171.5,1162.9 1192.3,1187 1213.2,1209.6 1234,1234.3 1254.8,1259.7 1275.6,1284.2 1296.5,1305.3 1317.3,1325.1 1338.1,1341.6 1358.9,1360.6 1379.8,1378.4 1400.6,1395.7 1421.4,1409.4 1442.2,1419.3 1463.1,1432.4 1483.9,1446.4 1504.7,1459.2 1525.5,1470" fill="none" stroke="#ff00ff" stroke-width="4.3" stroke-linejoin="round" stroke-linecap="round"/>
<polygon points="289.3,1571 269.3,1560 269.3,1582" fill="#ff00ff"/><polygon points="310.2,1571 290.2,1560 290.2,1582" fill="#ff00ff"/><polygon points="331,1570.7 311,1559.7 311,1581.7" fill="#ff00ff"/><polygon points="351.8,1570.1 331.8,1559.1 331.8,1581.1" fill="#ff00ff"/><polygon points="372.6,1568.8 352.6,1557.8 352.6,1579.8" fill="#ff00ff"/><polygon points="393.5,1565.9 373.5,1554.9 373.5,1576.9" fill="#ff00ff"/><polygon points="414.3,1560.2 394.3,1549.2 394.3,1571.2" fill="#ff00ff"/><polygon points="435.1,1551.1 415.1,1540.1 415.1,1562.1" fill="#ff00ff"/><polygon points="455.9,1538.9 435.9,1527.9 435.9,1549.9" fill="#ff00ff"/><polygon points="476.8,1518.8 456.8,1507.8 456.8,1529.8" fill="#ff00ff"/><polygon points="497.6,1487.5 477.6,1476.5 477.6,1498.5" fill="#ff00ff"/><polygon points="518.4,1442.8 498.4,1431.8 498.4,1453.8" fill="#ff00ff"/><polygon points="539.2,1380 519.2,1369 519.2,1391" fill="#ff00ff"/><polygon points="560.1,1298.7 540.1,1287.7 540.1,1309.7" fill="#ff00ff"/><polygon points="580.9,1194.8 560.9,1183.8 560.9,1205.8" fill="#ff00ff"/><polygon points="601.7,1077.2 581.7,1066.2 581.7,1088.2" fill="#ff00ff"/><polygon points="622.5,942.3 602.5,931.3 602.5,953.3" fill="#ff00ff"/><polygon points="643.4,803.9 623.4,792.9 623.4,814.9" fill="#ff00ff"/><polygon points="664.2,664.3 644.2,653.3 644.2,675.3" fill="#ff00ff"/><polygon points="685,545 665,534 665,556" fill="#ff00ff"/><polygon points="705.8,445.1 685.8,434.1 685.8,456.1" fill="#ff00ff"/><polygon points="726.7,378.8 706.7,367.8 706.7,389.8" fill="#ff00ff"/><polygon points="747.5,352.4 727.5,341.4 727.5,363.4" fill="#ff00ff"/><polygon points="768.3,359.8 748.3,348.8 748.3,370.8" fill="#ff00ff"/><polygon points="789.1,392.8 769.1,381.8 769.1,403.8" fill="#ff00ff"/><polygon points="810,439.8 790,428.8 790,450.8" fill="#ff00ff"/><polygon points="830.8,488.8 810.8,477.8 810.8,499.8" fill="#ff00ff"/><polygon points="851.6,533.2 831.6,522.2 831.6,544.2" fill="#ff00ff"/><polygon points="872.4,574.6 852.4,563.6 852.4,585.6" fill="#ff00ff"/><polygon points="893.3,611.5 873.3,600.5 873.3,622.5" fill="#ff00ff"/><polygon points="914.1,653.1 894.1,642.1 894.1,664.1" fill="#ff00ff"/><polygon points="934.9,703 914.9,692 914.9,714" fill="#ff00ff"/><polygon points="955.8,754.7 935.8,743.7 935.8,765.7" fill="#ff00ff"/><polygon points="976.6,803.5 956.6,792.5 956.6,814.5" fill="#ff00ff"/><polygon points="997.4,842.2 977.4,831.2 977.4,853.2" fill="#ff00ff"/><polygon points="1018.2,878.3 998.2,867.3 998.2,889.3" fill="#ff00ff"/><polygon points="1039.1,910.6 1019.1,899.6 1019.1,921.6" fill="#ff00ff"/><polygon points="1059.9,942.9 1039.9,931.9 1039.9,953.9" fill="#ff00ff"/><polygon points="1080.7,982 1060.7,971 1060.7,993" fill="#ff00ff"/><polygon points="1101.5,1021.2 1081.5,1010.2 1081.5,1032.2" fill="#ff00ff"/><polygon points="1122.4,1065 1102.4,1054 1102.4,1076" fill="#ff00ff"/><polygon points="1143.2,1101.9 1123.2,1090.9 1123.2,1112.9" fill="#ff00ff"/><polygon points="1164,1134.2 1144,1123.2 1144,1145.2" fill="#ff00ff"/><polygon points="1184.8,1162.9 1164.8,1151.9 1164.8,1173.9" fill="#ff00ff"/><polygon points="1205.7,1187 1185.7,1176 1185.7,1198" fill="#ff00ff"/><polygon points="1226.5,1209.6 1206.5,1198.6 1206.5,1220.6" fill="#ff00ff"/><polygon points="1247.3,1234.3 1227.3,1223.3 1227.3,1245.3" fill="#ff00ff"/><polygon points="1268.1,1259.7 1248.1,1248.7 1248.1,1270.7" fill="#ff00ff"/><polygon points="1289,1284.2 1269,1273.2 1269,1295.2" fill="#ff00ff"/><polygon points="1309.8,1305.3 1289.8,1294.3 1289.8,1316.3" fill="#ff00ff"/><polygon points="1330.6,1325.1 1310.6,1314.1 1310.6,1336.1" fill="#ff00ff"/><polygon points="1351.4,1341.6 1331.4,1330.6 1331.4,1352.6" fill="#ff00ff"/><polygon points="1372.3,1360.6 1352.3,1349.6 1352.3,1371.6" fill="#ff00ff"/><polygon points="1393.1,1378.4 1373.1,1367.4 1373.1,1389.4" fill="#ff00ff"/><polygon points="1413.9,1395.7 1393.9,1384.7 1393.9,1406.7" fill="#ff00ff"/><polygon points="1434.7,1409.4 1414.7,1398.4 1414.7,1420.4" fill="#ff00ff"/><polygon points="1455.6,1419.3 1435.6,1408.3 1435.6,1430.3" fill="#ff00ff"/><polygon points="1476.4,1432.4 1456.4,1421.4 1456.4,1443.4" fill="#ff00ff"/><polygon points="1497.2,1446.4 1477.2,1435.4 1477.2,1457.4" fill="#ff00ff"/><polygon points="1518,1459.2 1498,1448.2 1498,1470.2" fill="#ff00ff"/><polygon points="1538.9,1470 1518.9,1459 1518.9,1481" fill="#ff00ff"/>
</g>
</g>
<g font-size="97">
<text transform="translate(252.8 1677.3) scale(1 1.024)">0</text>
<text transform="translate(415.2 1677.3) scale(1 1.024)" letter-spacing="-2.7">100</text>
<text transform="translate(623.5 1677.3) scale(1 1.024)" letter-spacing="-2.7">200</text>
<text transform="translate(831.7 1677.3) scale(1 1.024)" letter-spacing="-2.7">300</text>
<text transform="translate(1040 1677.3) scale(1 1.024)" letter-spacing="-2.7">400</text>
<text transform="translate(1248.2 1677.3) scale(1 1.024)" letter-spacing="-2.7">500</text>
<text transform="translate(1456.5 1677.3) scale(1 1.024)" letter-spacing="-2.7">600</text>
<text transform="translate(1664.7 1677.3) scale(1 1.024)" letter-spacing="-2.7">700</text>
<text transform="translate(1873 1677.3) scale(1 1.024)" letter-spacing="-2.7">800</text>
<text transform="translate(2081.2 1677.3) scale(1 1.024)" letter-spacing="-2.7">900</text>
<text transform="translate(200.9 1599) scale(1 1.024)">0</text>
<text transform="translate(200.9 1388) scale(1 1.024)">1</text>
<text transform="translate(200.9 1177) scale(1 1.024)">2</text>
<text transform="translate(200.9 966) scale(1 1.024)">3</text>
<text transform="translate(200.9 754.9) scale(1 1.024)">4</text>
<text transform="translate(200.9 543.9) scale(1 1.024)">5</text>
<text transform="translate(200.9 332.9) scale(1 1.024)">6</text>
<text transform="translate(200.9 121.9) scale(1 1.024)">7</text>
</g>
<text transform="translate(0 1789) scale(1 1.015)" font-size="97"><tspan x="1011.8" letter-spacing="-2.7">Time</tspan> <tspan x="1229.2" letter-spacing="-1.3">(μs)</tspan></text>
<text transform="translate(112.2 853.6) rotate(-90)" font-size="97" text-anchor="middle" letter-spacing="0.3">Stress (MPa)</text>
<g font-size="74">
<line x1="961.3" y1="135.2" x2="1121.7" y2="135.2" stroke="#000000" stroke-width="4.5" stroke-linecap="round"/>
<rect x="1033.2" y="127.1" width="16.2" height="17" fill="#000000"/>
<text y="159.1"><tspan x="1138.7" letter-spacing="-0.88">Initial</tspan> <tspan x="1327.7" letter-spacing="-1.25">strength</tspan></text>
<line x1="961.3" y1="234.0" x2="1121.7" y2="234.0" stroke="#ff0000" stroke-width="4.5" stroke-linecap="round"/>
<ellipse cx="1041.3" cy="234.4" rx="9.15" ry="9.5" fill="#ff0000"/>
<text y="257.9"><tspan x="1141.3" letter-spacing="-1.13">Tensile</tspan> <tspan x="1368.6" letter-spacing="-1.34">strength</tspan> <tspan x="1613" letter-spacing="-1.0">of</tspan> <tspan x="1690.2" letter-spacing="-0.92">mortar</tspan> <tspan x="1897.3">×</tspan> <tspan x="1955" letter-spacing="-1.3">0.5</tspan></text>
<line x1="961.3" y1="327.8" x2="1121.7" y2="327.8" stroke="#ff0000" stroke-width="4.5" stroke-linecap="round"/>
<polygon points="1041.3,314.9 1030.3,334.9 1052.3,334.9" fill="#ff0000"/>
<text y="351.7"><tspan x="1141.3" letter-spacing="-1.13">Tensile</tspan> <tspan x="1368.6" letter-spacing="-1.34">strength</tspan> <tspan x="1613" letter-spacing="-1.0">of</tspan> <tspan x="1690.2" letter-spacing="-0.92">mortar</tspan> <tspan x="1897.3">×</tspan> <tspan x="1953.8" letter-spacing="0.6">2.0</tspan></text>
<line x1="961.3" y1="421.9" x2="1121.7" y2="421.9" stroke="#0000ff" stroke-width="4.5" stroke-linecap="round"/>
<polygon points="1041.3,435.7 1030.3,415.7 1052.3,415.7" fill="#0000ff"/>
<text y="445.8"><tspan x="1141.3" letter-spacing="-1.13">Tensile</tspan> <tspan x="1368.6" letter-spacing="-1.34">strength</tspan> <tspan x="1613" letter-spacing="-1.0">of</tspan> <tspan x="1689.5" letter-spacing="0.5">ITZ</tspan> <tspan x="1819">×</tspan> <tspan x="1876.2" letter-spacing="-1.3">0.5</tspan></text>
<line x1="961.3" y1="516.0" x2="1121.7" y2="516.0" stroke="#0000ff" stroke-width="4.5" stroke-linecap="round"/>
<polygon points="1041.3,504.3 1052.6,516.5 1041.3,528.7 1030,516.5" fill="#0000ff"/>
<text y="539.9"><tspan x="1141.3" letter-spacing="-1.13">Tensile</tspan> <tspan x="1368.6" letter-spacing="-1.34">strength</tspan> <tspan x="1613" letter-spacing="-1.0">of</tspan> <tspan x="1689.5" letter-spacing="0.5">ITZ</tspan> <tspan x="1819">×</tspan> <tspan x="1875" letter-spacing="0.6">2.0</tspan></text>
<line x1="961.3" y1="609.5" x2="1121.7" y2="609.5" stroke="#ff00ff" stroke-width="4.5" stroke-linecap="round"/>
<polygon points="1028,610 1048,599 1048,621" fill="#ff00ff"/>
<text y="633.4"><tspan x="1141.3" letter-spacing="-1.13">Tensile</tspan> <tspan x="1368.6" letter-spacing="-1.34">strength</tspan> <tspan x="1613" letter-spacing="-1.0">of</tspan> <tspan x="1690.4" letter-spacing="-1.26">aggregate</tspan> <tspan x="1982.9">×</tspan> <tspan x="2040.4" letter-spacing="-1.3">0.5</tspan></text>
<line x1="961.3" y1="703.0" x2="1121.7" y2="703.0" stroke="#ff00ff" stroke-width="4.5" stroke-linecap="round"/>
<polygon points="1054.6,703.5 1034.6,692.5 1034.6,714.5" fill="#ff00ff"/>
<text y="726.9"><tspan x="1141.3" letter-spacing="-1.13">Tensile</tspan> <tspan x="1368.6" letter-spacing="-1.34">strength</tspan> <tspan x="1613" letter-spacing="-1.0">of</tspan> <tspan x="1690.4" letter-spacing="-1.26">aggregate</tspan> <tspan x="1982.9">×</tspan> <tspan x="2039.2" letter-spacing="0.6">2.0</tspan></text>
</g>
</svg></body></html>
